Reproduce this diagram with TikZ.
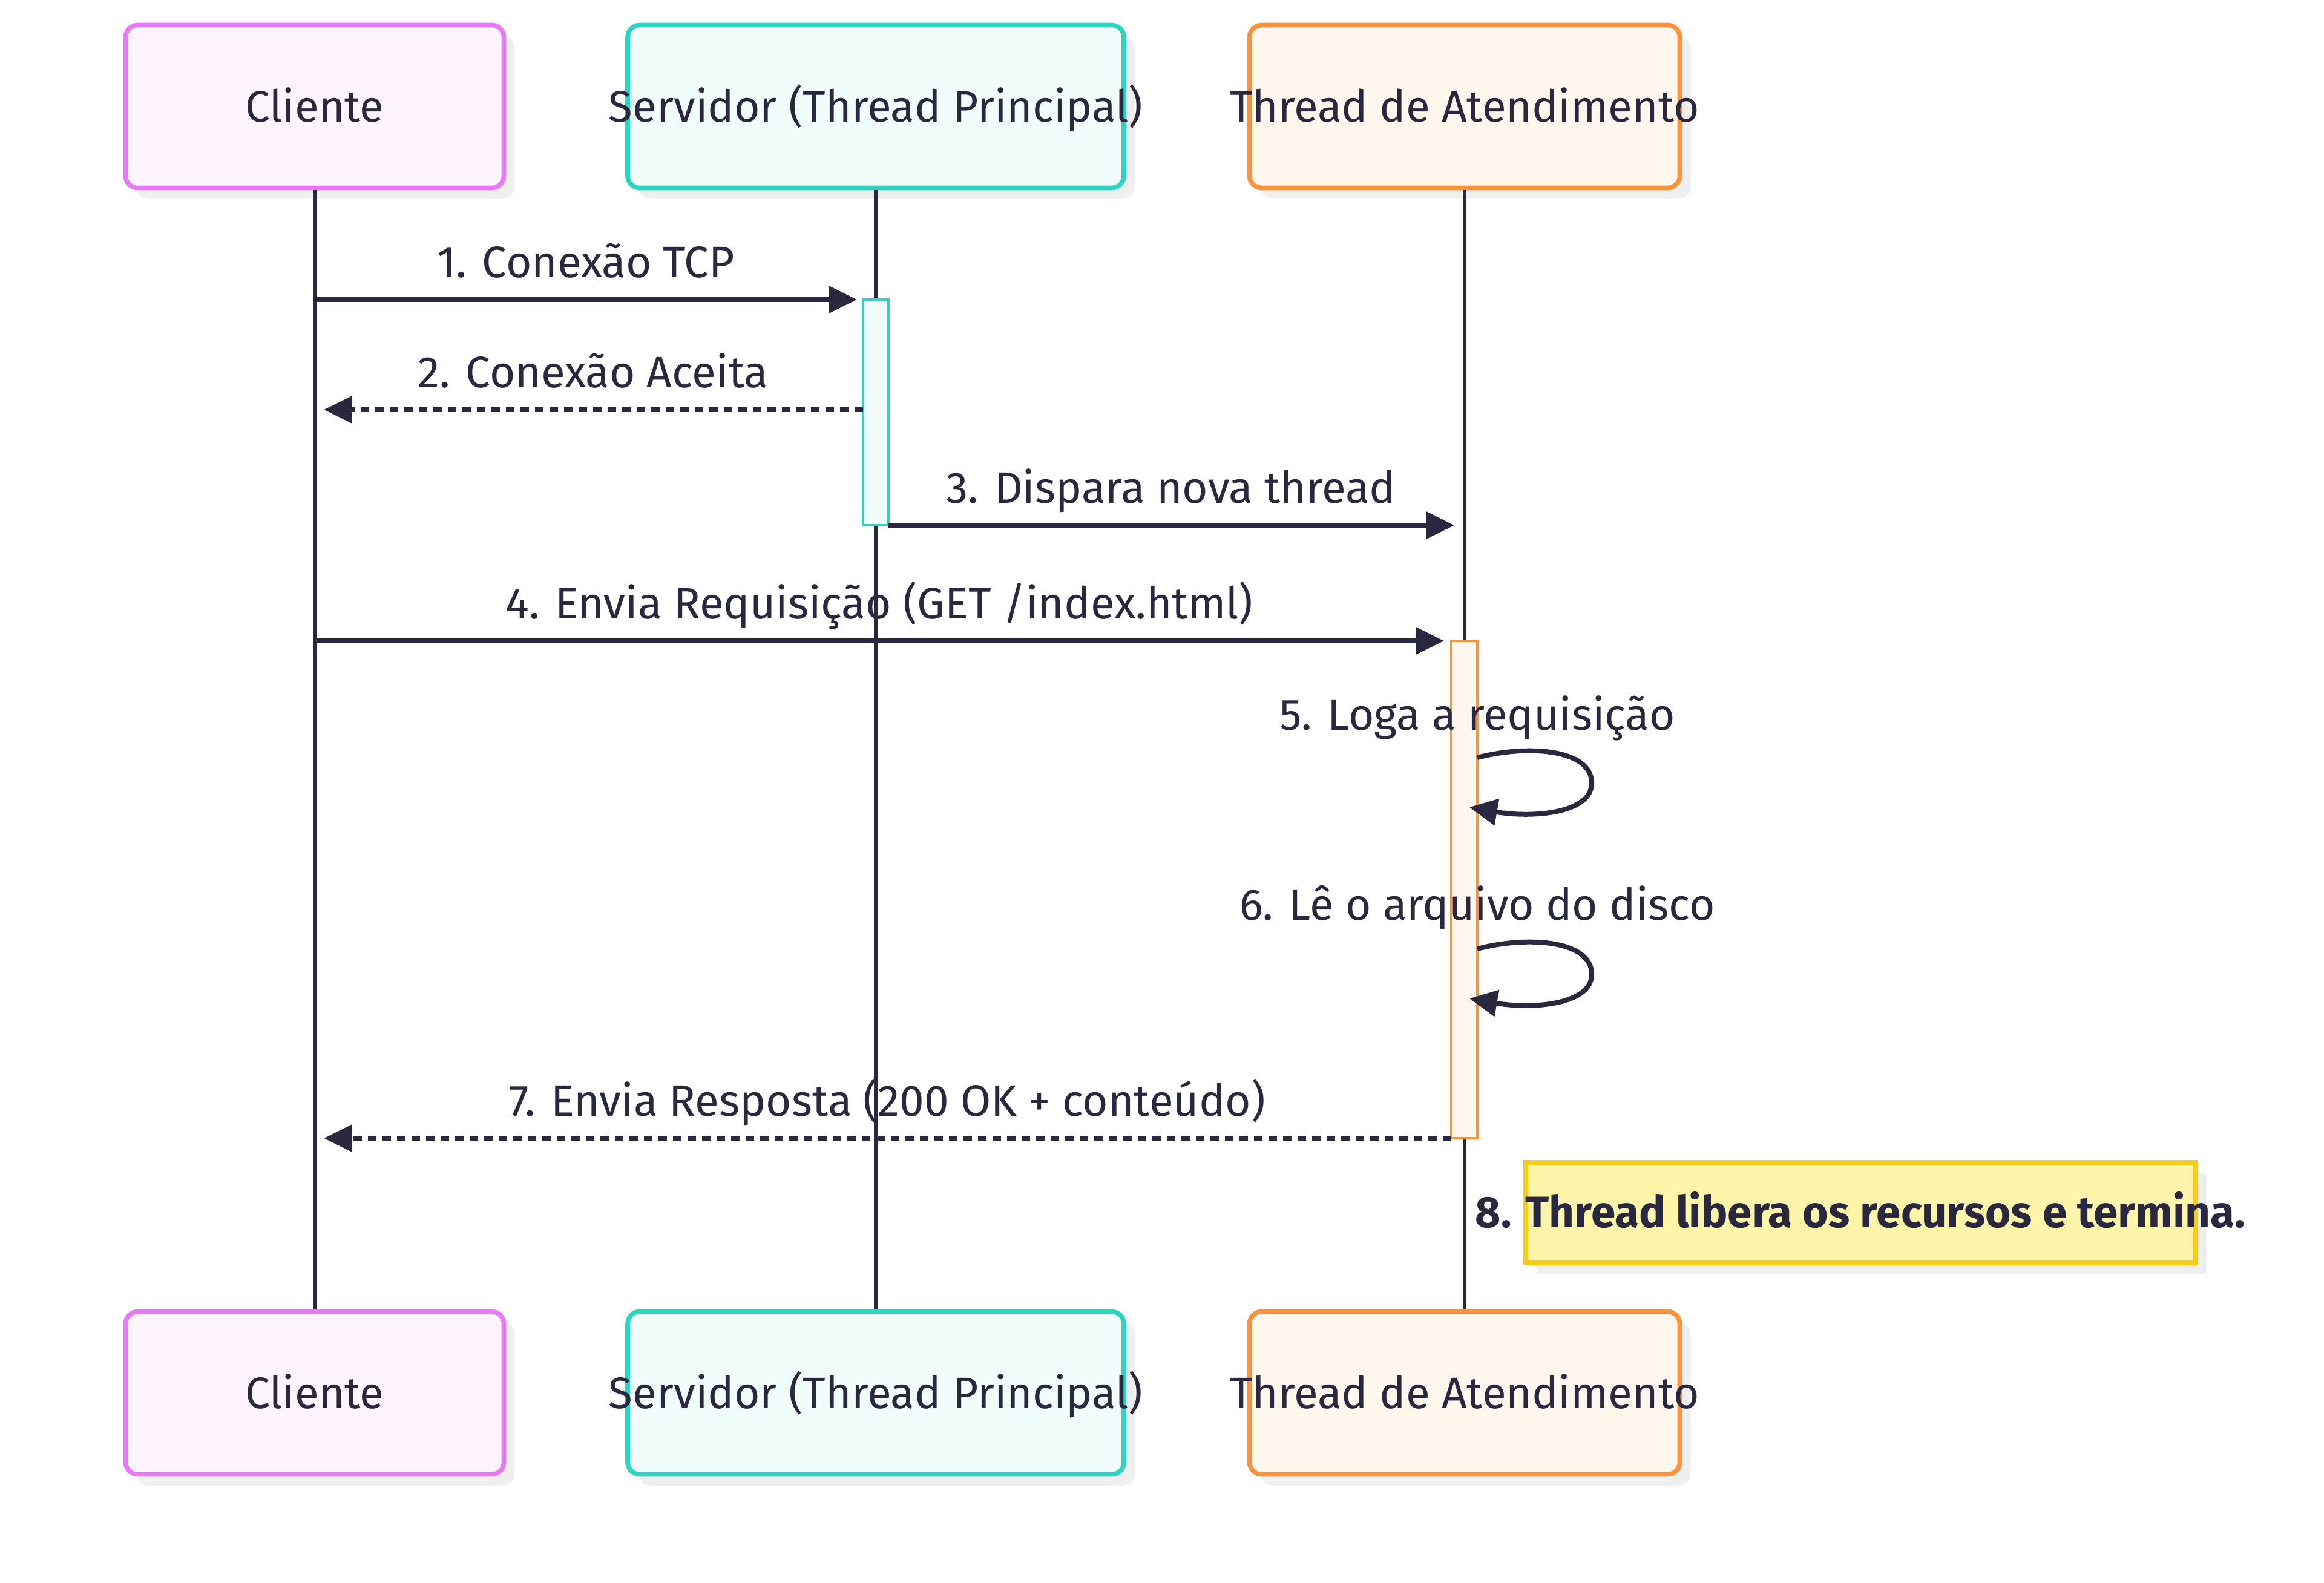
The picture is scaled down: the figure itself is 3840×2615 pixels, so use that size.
\documentclass[tikz,border=0pt]{standalone}
\usepackage{fontspec}
\setmainfont{Fira Sans}
\usetikzlibrary{arrows.meta,shadows}
\definecolor{ink}{HTML}{2A283E}
\definecolor{cliB}{HTML}{E879F9}
\definecolor{cliF}{HTML}{FDF4FE}
\definecolor{srvB}{HTML}{2DD4BF}
\definecolor{srvF}{HTML}{F0FDFA}
\definecolor{thrB}{HTML}{FB923C}
\definecolor{thrF}{HTML}{FFF7ED}
\definecolor{noteB}{HTML}{FACC15}
\definecolor{noteF}{HTML}{FEF4AA}
\definecolor{shadowgray}{HTML}{EFEFEF}
\newcommand{\ovl}[1]{\makebox[0pt][c]{#1}}
\begin{document}
\begin{tikzpicture}[x=0.25pt,y=-0.25pt,
  actorbox/.style={draw, line width=1.9pt, rounded corners=5pt, minimum height=67.25pt,
    text height=12.6pt, text depth=0pt, inner sep=0pt, text=ink, font=\fontsize{18.2}{21}\selectfont,
    drop shadow={shadow xshift=4.5pt, shadow yshift=-4.5pt, fill=shadowgray, opacity=1}},
  clibox/.style={actorbox, draw=cliB, fill=cliF, minimum width=156.25pt},
  srvbox/.style={actorbox, draw=srvB, fill=srvF, minimum width=205pt},
  thrbox/.style={actorbox, draw=thrB, fill=thrF, minimum width=177.75pt},
  life/.style={draw=ink, line width=1.6pt},
  actbox/.style={line width=1pt},
  msg/.style={draw=ink, line width=2pt, -{Triangle[length=11.5pt,width=10.75pt]}},
  reply/.style={msg, dash pattern=on 3.4pt off 2.6pt},
  lbl/.style={anchor=base, text=ink, inner sep=0pt, font=\fontsize{18.2}{21}\selectfont},
  notebox/.style={draw=noteB, fill=noteF, line width=1.9pt, minimum width=276.5pt, minimum height=41.5pt,
    inner sep=0pt, drop shadow={shadow xshift=4.5pt, shadow yshift=-4.5pt, fill=shadowgray, opacity=1}}
]
\useasboundingbox[fill=white] (0,0) rectangle (3840,2615);

% actor boxes
\node[clibox] (cli1) at (520,176) {\ovl{Cliente}};
\node[srvbox] (srv1) at (1447,176) {\ovl{Servidor (Thread Principal)}};
\node[thrbox] (thr1) at (2420,176) {\ovl{Thread de Atendimento}};
\node[clibox] (cli2) at (520,2302) {\ovl{Cliente}};
\node[srvbox] (srv2) at (1447,2302) {\ovl{Servidor (Thread Principal)}};
\node[thrbox] (thr2) at (2420,2302) {\ovl{Thread de Atendimento}};

% lifelines
\draw[life] (cli1.south) -- (cli2.north);
\draw[life] (srv1.south) -- (srv2.north);
\draw[life] (thr1.south) -- (thr2.north);

% activations
\draw[actbox, draw=srvB, fill=srvF] (1426,495) rectangle (1468,868);
\coordinate (sa1) at (1426,495);
\coordinate (sa2) at (1426,677);
\coordinate (sa3) at (1468,868);
\draw[actbox, draw=thrB, fill=thrF] (2398,1059) rectangle (2441,1881);
\coordinate (ta4) at (2398,1059);
\coordinate (ta7) at (2398,1881);

% message endpoints
\coordinate (c1) at (520,495);
\coordinate (c2) at (520,677);
\coordinate (t3) at (2420,868);
\coordinate (c4) at (520,1059);
\coordinate (c7) at (520,1881);

% messages
\draw[msg, shorten >=2.5pt] (c1) -- (sa1);
\node[lbl] (l1) at (968,458) {1. Conexão TCP};
\draw[reply, shorten >=3.8pt] (sa2) -- (c2);
\node[lbl] (l2) at (980,640) {2. Conexão Aceita};
\draw[msg, shorten >=4.2pt] (sa3) -- (t3);
\node[lbl] (l3) at (1935,831) {3. Dispara nova thread};
\draw[msg, shorten >=3pt] (c4) -- (ta4);
\node[lbl] (l4) at (1453,1022) {4. Envia Requisição (GET /index.html)};

% self loops
\coordinate (s5a) at (2441,1252); \coordinate (s5b) at (2428,1334);
\draw[msg] (s5a) .. controls (2525,1230) and (2630,1238) .. (2630,1294)
  .. controls (2630,1345) and (2530,1352) .. (s5b);
\node[lbl] (l5) at (2441,1206) {5. Loga a requisição};
\coordinate (s6a) at (2441,1568); \coordinate (s6b) at (2428,1650);
\draw[msg] (s6a) .. controls (2525,1546) and (2630,1554) .. (2630,1610)
  .. controls (2630,1661) and (2530,1668) .. (s6b);
\node[lbl] (l6) at (2441,1520) {6. Lê o arquivo do disco};

\draw[reply, shorten >=3.8pt] (ta7) -- (c7);
\node[lbl] (l7) at (1466,1844) {7. Envia Resposta (200 OK + conteúdo)};

% note
\node[notebox] (note) at (3074,2004) {};
\node[lbl, font=\fontsize{18.2}{21}\selectfont\bfseries] (l8) at (3074,2028) {8. Thread libera os recursos e termina.};
\end{tikzpicture}
\end{document}
